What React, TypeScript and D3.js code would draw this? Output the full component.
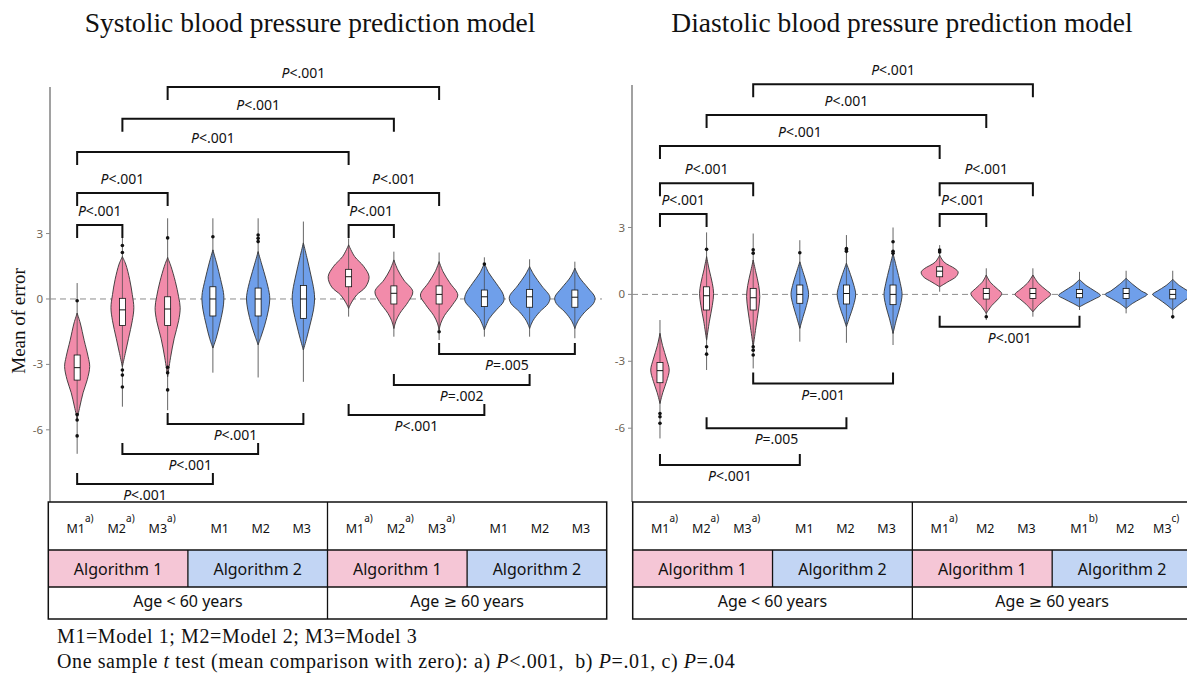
import React from 'react';
import * as d3 from 'd3';

const W = 1187;
const H = 675;

// categories: age group x algorithm x model
const ageGroups = ['Age < 60 years', 'Age \u2265 60 years'];
const algorithms = ['Algorithm 1', 'Algorithm 2'];
const models = ['M1', 'M2', 'M3'];
const categories = ageGroups.flatMap((g, gi) =>
  algorithms.flatMap((a, ai) => models.map((m) => `${gi}|${ai}|${m}`))
);

const yTicks = [3, 0, -3, -6];

// ---- Systolic model ----
const sbpQ1 = [-3.72, -1.22, -1.22, -0.78, -0.78, -0.89, 0.56, -0.23, -0.23, -0.35, -0.38, -0.38];
const sbpMedian = [-3.15, -0.5, -0.46, 0, 0, 0, 1.02, 0.26, 0.21, 0.1, 0.1, 0.08];
const sbpQ3 = [-2.57, 0.03, 0.1, 0.56, 0.5, 0.62, 1.36, 0.6, 0.6, 0.41, 0.44, 0.41];
const sbpLow = [-7.1, -4.94, -5.1, -3.38, -3.6, -3.8, -0.81, -1.73, -1.88, -1.73, -1.73, -1.8];
const sbpHigh = [0.73, 3.3, 3.7, 3.7, 3.7, 3.55, 2.78, 2.17, 2.13, 1.91, 1.82, 1.71];
const sbpOutliers = [
  [-0.08, -5.3, -5.55, -6.28],
  [2.45, 2.13, -3.26, -3.49, -4.04],
  [2.8, -3.13, -3.38, -4.17],
  [2.85],
  [2.93, 2.78, 2.63],
  [],
  [],
  [],
  [-1.5],
  [1.6],
  [],
  [],
];
// violin outline: [value, relative density]
const sbpDensity: [number, number][][] = [
  [[-0.65, 0], [-1.1, 0.14], [-1.9, 0.32], [-2.65, 0.5], [-3.1, 0.57], [-3.7, 0.46], [-4.3, 0.27], [-4.95, 0.12], [-5.5, 0]],
  [[1.94, 0], [1.6, 0.15], [0.9, 0.33], [0.2, 0.45], [-0.4, 0.52], [-1.0, 0.45], [-1.8, 0.28], [-2.5, 0.13], [-3.1, 0]],
  [[1.9, 0], [1.5, 0.15], [0.8, 0.35], [0.1, 0.5], [-0.4, 0.57], [-1.0, 0.5], [-1.8, 0.3], [-2.7, 0.13], [-3.56, 0]],
  [[2.25, 0], [1.6, 0.18], [0.9, 0.35], [0.3, 0.48], [0, 0.5], [-0.5, 0.45], [-1.2, 0.3], [-1.8, 0.15], [-2.25, 0]],
  [[2.17, 0], [1.6, 0.16], [0.9, 0.36], [0.3, 0.5], [0, 0.53], [-0.5, 0.47], [-1.2, 0.3], [-1.7, 0.14], [-2.1, 0]],
  [[2.57, 0], [1.9, 0.16], [1.1, 0.34], [0.4, 0.48], [0, 0.51], [-0.5, 0.46], [-1.2, 0.3], [-1.8, 0.15], [-2.34, 0]],
  [[2.48, 0], [1.95, 0.27], [1.5, 0.68], [1.02, 0.93], [0.55, 0.77], [0.18, 0.36], [-0.18, 0.12], [-0.43, 0]],
  [[1.79, 0], [1.33, 0.18], [0.87, 0.45], [0.34, 0.86], [-0.12, 0.66], [-0.66, 0.27], [-1.0, 0.1], [-1.35, 0]],
  [[1.71, 0], [1.25, 0.18], [0.75, 0.48], [0.18, 0.85], [-0.25, 0.62], [-0.75, 0.25], [-1.1, 0.08], [-1.42, 0]],
  [[1.64, 0], [1.2, 0.2], [0.7, 0.55], [0.2, 0.86], [-0.1, 0.88], [-0.5, 0.55], [-0.9, 0.22], [-1.42, 0]],
  [[1.48, 0], [1.1, 0.2], [0.6, 0.55], [0.1, 0.92], [-0.2, 0.85], [-0.6, 0.45], [-1.0, 0.15], [-1.35, 0]],
  [[1.41, 0], [1.0, 0.2], [0.5, 0.6], [0.08, 0.91], [-0.2, 0.85], [-0.6, 0.45], [-1.0, 0.15], [-1.35, 0]],
];
const sbpSup = ['a)', 'a)', 'a)', '', '', '', 'a)', 'a)', 'a)', '', '', ''];
const sbpBrackets = [
  { from: 2, to: 8, y: 9.72, p: '<.001', below: false },
  { from: 1, to: 7, y: 8.26, p: '<.001', below: false },
  { from: 0, to: 6, y: 6.74, p: '<.001', below: false },
  { from: 0, to: 2, y: 4.86, p: '<.001', below: false },
  { from: 0, to: 1, y: 3.39, p: '<.001', below: false },
  { from: 6, to: 8, y: 4.86, p: '<.001', below: false },
  { from: 6, to: 7, y: 3.39, p: '<.001', below: false },
  { from: 2, to: 5, y: -5.73, p: '<.001', below: true },
  { from: 1, to: 4, y: -7.11, p: '<.001', below: true },
  { from: 0, to: 3, y: -8.49, p: '<.001', below: true },
  { from: 8, to: 11, y: -2.52, p: '=.005', below: true },
  { from: 7, to: 10, y: -3.94, p: '=.002', below: true },
  { from: 6, to: 9, y: -5.32, p: '<.001', below: true },
];

// ---- Diastolic model ----
const dbpQ1 = [-3.96, -0.7, -0.7, -0.4, -0.43, -0.46, 0.79, -0.21, -0.18, -0.15, -0.18, -0.2];
const dbpMedian = [-3.42, -0.06, -0.15, 0, 0.04, 0, 1.04, 0.04, 0.04, 0.04, 0.04, 0];
const dbpQ3 = [-3.05, 0.34, 0.27, 0.42, 0.42, 0.42, 1.24, 0.27, 0.27, 0.22, 0.27, 0.22];
const dbpLow = [-6.46, -3.39, -3.32, -2.12, -2.17, -2.27, 0.12, -1.15, -1.0, -0.7, -0.85, -1.1];
const dbpHigh = [-1.15, 2.78, 2.73, 2.43, 2.66, 3.0, 2.21, 1.17, 1.17, 1.01, 1.06, 1.06];
const dbpOutliers = [
  [-5.34, -5.49, -5.78],
  [2.02, -2.35, -2.68],
  [2.0, 1.85, -2.35, -2.5, -2.72],
  [1.87],
  [2.06, 2.0, 1.93],
  [2.36, 1.93, 1.85],
  [1.99, 1.9],
  [-1.0],
  [],
  [],
  [],
  [-1.0],
];
const dbpDensity: [number, number][][] = [
  [[-1.75, 0], [-2.3, 0.12], [-2.9, 0.3], [-3.39, 0.42], [-3.9, 0.3], [-4.4, 0.13], [-4.89, 0]],
  [[1.69, 0], [1.1, 0.12], [0.5, 0.26], [0.04, 0.32], [-0.5, 0.26], [-1.2, 0.13], [-2.05, 0]],
  [[1.54, 0], [1.0, 0.12], [0.4, 0.25], [-0.1, 0.3], [-0.7, 0.24], [-1.5, 0.12], [-2.35, 0]],
  [[1.46, 0], [0.9, 0.18], [0.4, 0.33], [0, 0.4], [-0.5, 0.3], [-1.0, 0.15], [-1.52, 0]],
  [[1.4, 0], [0.9, 0.18], [0.4, 0.34], [0, 0.42], [-0.5, 0.32], [-1.0, 0.15], [-1.45, 0]],
  [[1.84, 0], [1.2, 0.16], [0.5, 0.33], [0, 0.41], [-0.5, 0.33], [-1.1, 0.16], [-1.75, 0]],
  [[1.76, 0], [1.45, 0.2], [1.15, 0.7], [1.0, 0.84], [0.8, 0.75], [0.55, 0.35], [0.34, 0]],
  [[0.87, 0], [0.55, 0.18], [0.25, 0.5], [0.04, 0.7], [-0.2, 0.55], [-0.5, 0.25], [-0.85, 0]],
  [[0.87, 0], [0.5, 0.25], [0.2, 0.6], [0.0, 0.81], [-0.2, 0.6], [-0.45, 0.3], [-0.78, 0]],
  [[0.67, 0], [0.4, 0.3], [0.15, 0.7], [-0.05, 0.95], [-0.2, 0.7], [-0.4, 0.3], [-0.56, 0]],
  [[0.72, 0], [0.45, 0.3], [0.15, 0.7], [0, 0.95], [-0.2, 0.65], [-0.4, 0.3], [-0.63, 0]],
  [[0.67, 0], [0.4, 0.3], [0.15, 0.7], [0, 0.91], [-0.2, 0.65], [-0.45, 0.3], [-0.7, 0]],
];
const dbpSup = ['a)', 'a)', 'a)', '', '', '', 'a)', '', '', 'b)', '', 'c)'];
const dbpBrackets = [
  { from: 2, to: 8, y: 9.42, p: '<.001', below: false },
  { from: 1, to: 7, y: 8.04, p: '<.001', below: false },
  { from: 0, to: 6, y: 6.65, p: '<.001', below: false },
  { from: 0, to: 2, y: 4.98, p: '<.001', below: false },
  { from: 0, to: 1, y: 3.6, p: '<.001', below: false },
  { from: 6, to: 8, y: 4.98, p: '<.001', below: false },
  { from: 6, to: 7, y: 3.6, p: '<.001', below: false },
  { from: 2, to: 5, y: -4.0, p: '=.001', below: true },
  { from: 1, to: 4, y: -6.0, p: '=.005', below: true },
  { from: 0, to: 3, y: -7.65, p: '<.001', below: true },
  { from: 6, to: 9, y: -1.45, p: '<.001', below: true },
];

const violinFill = ['#F28BAA', '#6F9FEA'];
const cellFill = ['#F5C6D6', '#C2D5F4'];
const SANS = '"Noto Sans", "DejaVu Sans", sans-serif';
const SERIF = '"Liberation Serif", "Times New Roman", serif';

type Bracket = { from: number; to: number; y: number; p: string; below: boolean };

function Panel(props: {
  title: string;
  titleX: number;
  plotX: [number, number];
  tableX: [number, number];
  yDomain: [number, number];
  yTop: number;
  q1: number[];
  med: number[];
  q3: number[];
  low: number[];
  high: number[];
  outliers: number[][];
  density: [number, number][][];
  sup: string[];
  brackets: Bracket[];
  yLabel?: string;
}) {
  const rowY = [502, 550, 587, 619];
  const x = d3.scalePoint<string>().domain(categories).range(props.plotX).padding(0.6);
  const y = d3.scaleLinear().domain(props.yDomain).range([rowY[0], props.yTop]);
  const w = d3.scaleLinear().domain([0, 1]).range([0, 22]);
  const axisX = props.plotX[0];
  const boxW = 6;

  const ageBand = d3.scaleBand<string>().domain(ageGroups).range(props.tableX);
  const algBand = d3.scaleBand<string>().domain(algorithms).range([0, ageBand.bandwidth()]);
  const modelPos = d3.scalePoint<string>().domain(models).range([0, algBand.bandwidth()]).padding(0.7);

  return (
    <g>
      <text x={props.titleX} y={32} textAnchor="middle" fontFamily={SERIF} fontSize={27.5} fill="#111">
        {props.title}
      </text>
      {props.yLabel && (
        <text
          transform={`translate(25,321) rotate(-90)`}
          textAnchor="middle"
          fontFamily={SERIF}
          fontSize={19}
          fill="#111"
        >
          {props.yLabel}
        </text>
      )}
      {/* axis */}
      <line x1={axisX} x2={axisX} y1={props.yTop} y2={rowY[0]} stroke="#8a8a8a" strokeWidth={1.6} />
      {yTicks.map((t) => (
        <g key={t}>
          <line x1={axisX - 4} x2={axisX} y1={y(t)} y2={y(t)} stroke="#8a8a8a" strokeWidth={1} />
          <text x={axisX - 7} y={y(t)} dy="0.35em" textAnchor="end" fontFamily={SANS} fontSize={11.5} fill="#6e6455">
            {t}
          </text>
        </g>
      ))}
      <line
        x1={axisX}
        x2={props.plotX[1]}
        y1={y(0)}
        y2={y(0)}
        stroke="#8c8c8c"
        strokeWidth={1}
        strokeDasharray="6,4"
      />
      {/* violins */}
      {categories.map((c, i) => {
        const cx = x(c) as number;
        const alg = +c.split('|')[1];
        const area = d3
          .area<[number, number]>()
          .y((p) => y(p[0]))
          .x0((p) => cx - w(p[1]))
          .x1((p) => cx + w(p[1]))
          .curve(d3.curveCatmullRom.alpha(0.5));
        return (
          <g key={c}>
            <line x1={cx} x2={cx} y1={y(props.low[i])} y2={y(props.high[i])} stroke="#555" strokeWidth={0.9} />
            <path d={area(props.density[i]) || ''} fill={violinFill[alg]} stroke="#333" strokeWidth={0.9} />
            <line x1={cx} x2={cx} y1={y(props.density[i][0][0])} y2={y(props.density[i][props.density[i].length - 1][0])} stroke="#444" strokeWidth={0.7} />
            {props.outliers[i].map((o, j) => (
              <circle key={j} cx={cx} cy={y(o)} r={1.8} fill="#111" />
            ))}
            <rect
              x={cx - boxW / 2}
              y={y(props.q3[i])}
              width={boxW}
              height={y(props.q1[i]) - y(props.q3[i])}
              fill="#fff"
              stroke="#111"
              strokeWidth={0.8}
            />
            <line x1={cx - boxW / 2} x2={cx + boxW / 2} y1={y(props.med[i])} y2={y(props.med[i])} stroke="#111" strokeWidth={1} />
          </g>
        );
      })}
      {/* significance brackets */}
      {props.brackets.map((b, i) => {
        const xa = x(categories[b.from]) as number;
        const xb = x(categories[b.to]) as number;
        const yy = y(b.y);
        const tick = b.below ? -11 : 13;
        return (
          <g key={i}>
            <path
              d={`M${xa},${yy + tick}V${yy}H${xb}V${yy + tick}`}
              fill="none"
              stroke="#111"
              strokeWidth={2}
            />
            <text
              x={(xa + xb) / 2}
              y={b.below ? yy + 16 : yy - 9}
              textAnchor="middle"
              fontFamily={SANS}
              fontSize={14}
              fill="#111"
            >
              <tspan fontStyle="italic">P</tspan>
              {b.p}
            </text>
          </g>
        );
      })}
      {/* table below */}
      {ageGroups.map((g) => {
        const gx = ageBand(g) as number;
        return (
          <g key={g}>
            {algorithms.map((a, ai) => {
              const ax = gx + (algBand(a) as number);
              return (
                <g key={a}>
                  <rect x={ax} y={rowY[1]} width={algBand.bandwidth()} height={rowY[2] - rowY[1]} fill={cellFill[ai]} />
                  <text
                    x={ax + algBand.bandwidth() / 2}
                    y={rowY[2] - 12}
                    textAnchor="middle"
                    fontFamily={SANS}
                    fontSize={16}
                    fill="#111"
                  >
                    {a}
                  </text>
                  {models.map((m) => {
                    const idx = categories.indexOf(`${ageGroups.indexOf(g)}|${ai}|${m}`);
                    const s = props.sup[idx];
                    return (
                      <text
                        key={m}
                        x={ax + (modelPos(m) as number) + 3}
                        y={rowY[1] - 17}
                        textAnchor="middle"
                        fontFamily={SANS}
                        fontSize={12.5}
                        fill="#111"
                      >
                        {m}
                        {s && (
                          <tspan dy={-11} fontSize={10}>
                            {s}
                          </tspan>
                        )}
                      </text>
                    );
                  })}
                </g>
              );
            })}
            <line
              x1={gx + ageBand.bandwidth() / 2}
              x2={gx + ageBand.bandwidth() / 2}
              y1={rowY[1]}
              y2={rowY[2]}
              stroke="#111"
              strokeWidth={1.3}
            />
            <text
              x={gx + ageBand.bandwidth() / 2}
              y={rowY[3] - 12}
              textAnchor="middle"
              fontFamily={SANS}
              fontSize={16}
              fill="#111"
            >
              {g}
            </text>
          </g>
        );
      })}
      <line x1={props.tableX[0]} x2={props.tableX[1]} y1={rowY[1]} y2={rowY[1]} stroke="#111" strokeWidth={1.3} />
      <line x1={props.tableX[0]} x2={props.tableX[1]} y1={rowY[2]} y2={rowY[2]} stroke="#111" strokeWidth={1.3} />
      <line
        x1={(props.tableX[0] + props.tableX[1]) / 2}
        x2={(props.tableX[0] + props.tableX[1]) / 2}
        y1={rowY[0]}
        y2={rowY[3]}
        stroke="#111"
        strokeWidth={1.3}
      />
      <rect
        x={props.tableX[0]}
        y={rowY[0]}
        width={props.tableX[1] - props.tableX[0]}
        height={rowY[3] - rowY[0]}
        fill="none"
        stroke="#111"
        strokeWidth={1.5}
      />
    </g>
  );
}

export default function App() {
  return (
    <svg
      width={W}
      height={H}
      viewBox={`0 0 ${W} ${H}`}
      style={{ position: 'absolute', left: 0, top: 0, background: '#fff' }}
    >
      <rect width={W} height={H} fill="#fff" />
      <Panel
        title="Systolic blood pressure prediction model"
        titleX={310}
        plotX={[50, 602]}
        tableX={[48.3, 606.7]}
        yDomain={[-9.31, 9.72]}
        yTop={87}
        q1={sbpQ1}
        med={sbpMedian}
        q3={sbpQ3}
        low={sbpLow}
        high={sbpHigh}
        outliers={sbpOutliers}
        density={sbpDensity}
        sup={sbpSup}
        brackets={sbpBrackets}
        yLabel="Mean of error"
      />
      <Panel
        title="Diastolic blood pressure prediction model"
        titleX={902}
        plotX={[632, 1200.7]}
        tableX={[632.7, 1192]}
        yDomain={[-9.31, 9.39]}
        yTop={85}
        q1={dbpQ1}
        med={dbpMedian}
        q3={dbpQ3}
        low={dbpLow}
        high={dbpHigh}
        outliers={dbpOutliers}
        density={dbpDensity}
        sup={dbpSup}
        brackets={dbpBrackets}
      />
      <text x={57} y={643} fontFamily={SERIF} fontSize={20} letterSpacing={0.6} fill="#111">
        M1=Model 1; M2=Model 2; M3=Model 3
      </text>
      <text x={57} y={668} fontFamily={SERIF} fontSize={20} letterSpacing={0.6} fill="#111" xmlSpace="preserve">
        One sample <tspan fontStyle="italic">t</tspan> test (mean comparison with zero): a){' '}
        <tspan fontStyle="italic">P</tspan>{'<.001,  b) '}
        <tspan fontStyle="italic">P</tspan>{'=.01, c) '}
        <tspan fontStyle="italic">P</tspan>=.04
      </text>
    </svg>
  );
}
